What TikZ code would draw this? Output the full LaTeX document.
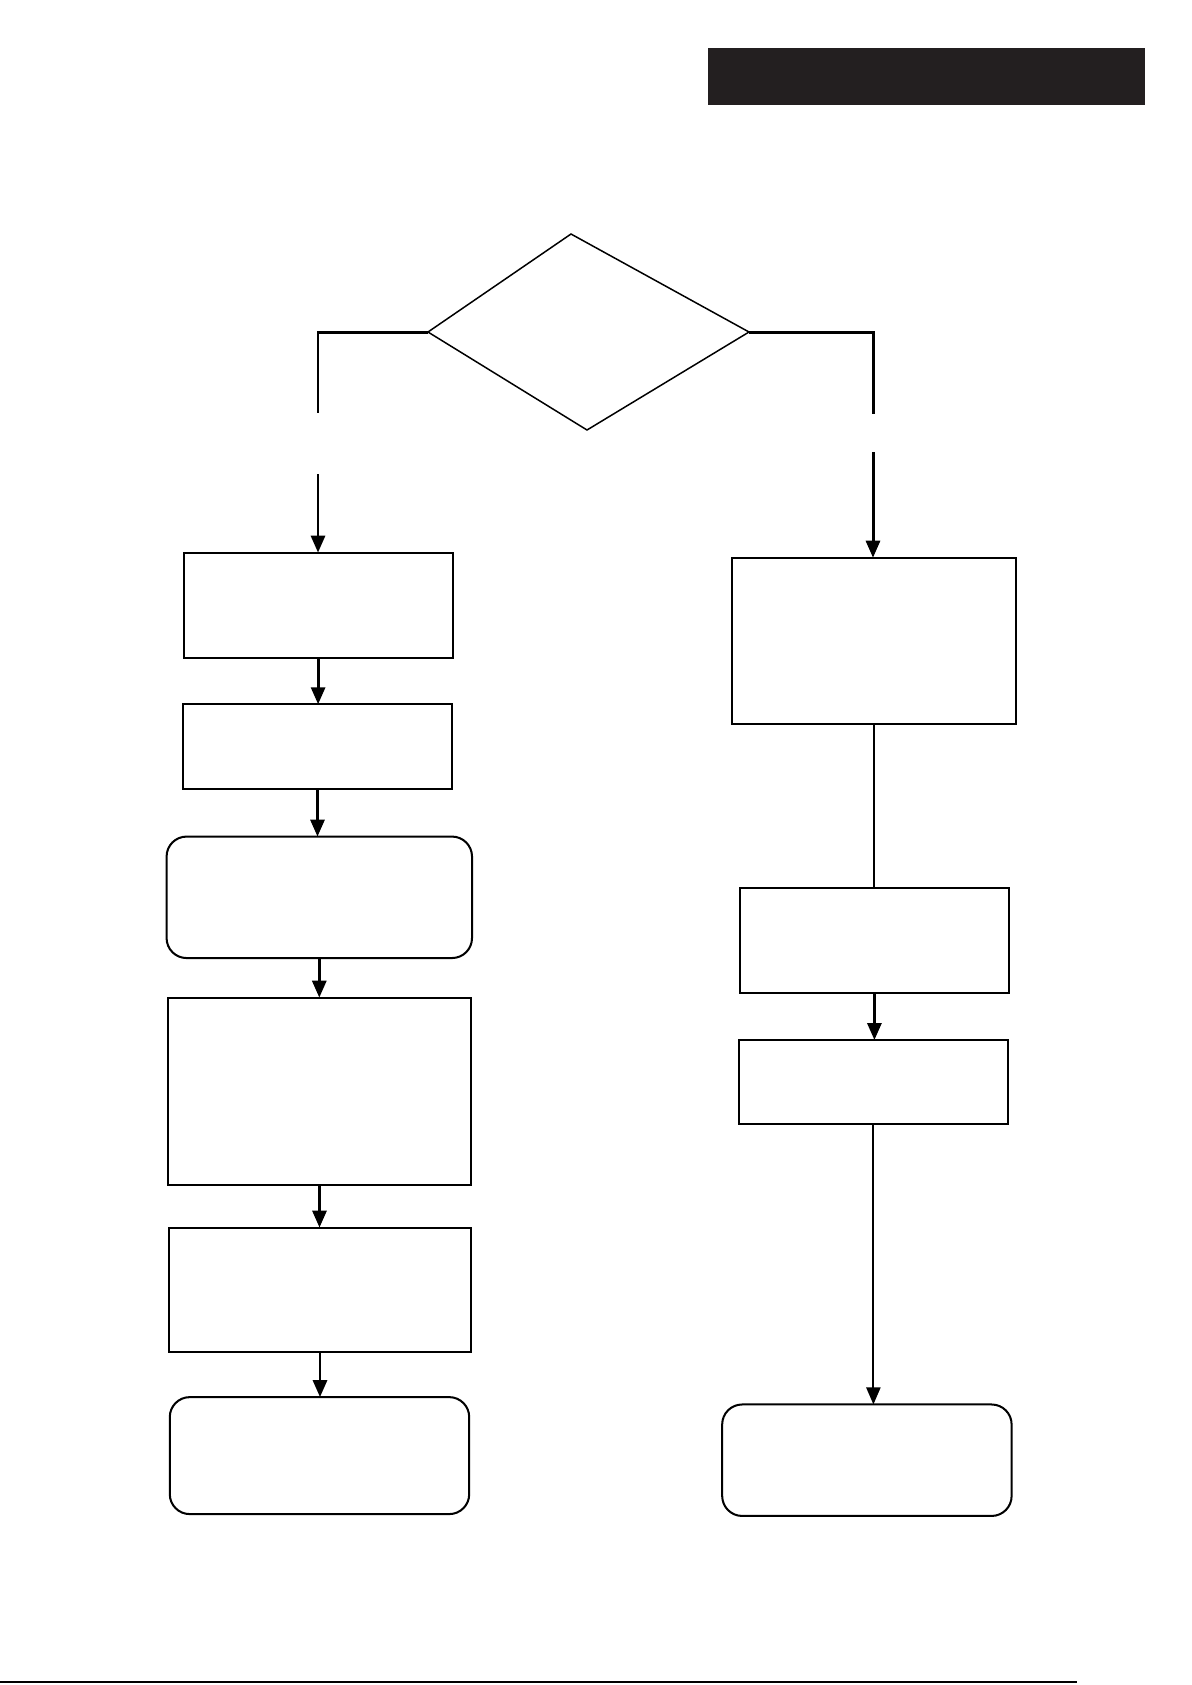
\documentclass[tikz,border=0pt]{standalone}
\usetikzlibrary{arrows.meta}
\definecolor{barblack}{RGB}{35,31,32}
\tikzset{%
  box/.style      = {shape=rectangle, draw, line width=1.15pt, inner sep=0pt, outer sep=0pt},%
  rbox/.style     = {box, rounded corners=0.4cm},%
  flow/.style     = {line width=1.7pt},%
  thinflow/.style = {line width=1.2pt},%
  tip/.style      = {-{Triangle[width=0.28cm,length=0.34cm]}},%
  decision/.style = {line width=0.85pt, line join=miter}%
}
\begin{document}
\begin{tikzpicture}[x=0.02cm,y=-0.02cm]%
	\useasboundingbox (0,0) rectangle (1192,1685);
	% header bar and bottom rule
	\fill[barblack] (708,48) rectangle (1145,105);
	\draw[line width=0.9pt] (0,1682) -- (1077,1682);
	% decision
	\coordinate (dtop)   at (571,234);
	\coordinate (dleft)  at (428,332);
	\coordinate (dright) at (749,332);
	\coordinate (dbot)   at (587,430);
	\draw[decision] (dtop) -- (dright) -- (dbot) -- (dleft) -- cycle;
	% left column
	\node[box]  (l1) at (318.1,605.1)  [minimum width=5.38cm, minimum height=2.10cm] {};
	\node[box]  (l2) at (317.5,746.5)  [minimum width=5.39cm, minimum height=1.69cm] {};
	\node[rbox] (l3) at (319.3,897.3)  [minimum width=6.11cm, minimum height=2.43cm] {};
	\node[box]  (l4) at (319.5,1091.1) [minimum width=6.08cm, minimum height=3.74cm] {};
	\node[box]  (l5) at (320.0,1289.8) [minimum width=6.06cm, minimum height=2.49cm] {};
	\node[rbox] (l6) at (319.5,1455.6) [minimum width=5.99cm, minimum height=2.34cm] {};
	% right column
	\node[box]  (r1) at (873.9,640.7)  [minimum width=5.69cm, minimum height=3.32cm] {};
	\node[box]  (r2) at (874.4,940.2)  [minimum width=5.39cm, minimum height=2.10cm] {};
	\node[box]  (r3) at (873.4,1082.0) [minimum width=5.39cm, minimum height=1.68cm] {};
	\node[rbox] (r4) at (866.9,1460.2) [minimum width=5.79cm, minimum height=2.23cm] {};
	% branches out of the decision, broken
	\coordinate (lgap) at (318,413);
	\coordinate (lres) at (318,474);
	\coordinate (rgap) at (873,414);
	\coordinate (rres) at (873,452);
	\draw[flow] (dleft) -- (dleft -| lgap) -- (lgap);
	\draw[flow] (dright) -- (dright -| rgap) -- (rgap);
	\draw[flow,tip] (lres) -- (lres |- l1.north);
	\draw[flow,tip] (rres) -- (rres |- r1.north);
	% left connectors
	\draw[flow,tip] (l1.south) -- (l1.south |- l2.north);
	\draw[flow,tip] (l2.south) -- (l2.south |- l3.north);
	\draw[flow,tip] (l3.south) -- (l3.south |- l4.north);
	\draw[flow,tip] (l4.south) -- (l4.south |- l5.north);
	\draw[flow,tip] (l5.south) -- (l5.south |- l6.north);
	% right connectors
	\draw[thinflow] (r1.south) -- (r1.south |- r2.north);
	\draw[flow,tip] (r2.south) -- (r2.south |- r3.north);
	\draw[thinflow,tip] (r3.south) -- (r3.south |- r4.north);
\end{tikzpicture}
\end{document}
